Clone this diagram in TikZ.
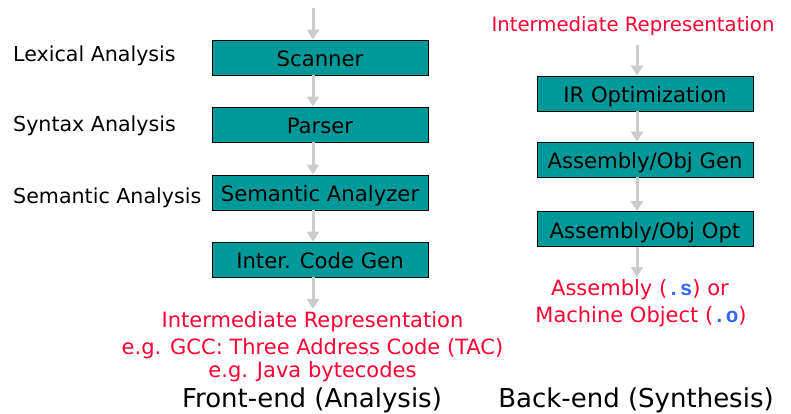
\documentclass[tikz,border=0pt]{standalone}
\usepackage{fontspec}
\setmainfont{DejaVu Sans}
\setmonofont{Liberation Mono}
\usetikzlibrary{arrows.meta}
\definecolor{teal}{RGB}{0,153,153}
\definecolor{irred}{RGB}{255,0,51}
\definecolor{monoblue}{RGB}{51,102,255}
\definecolor{arrgray}{RGB}{204,204,204}
\tikzset{
  stage/.style={draw=black, line width=0.8pt, fill=teal, minimum width=216pt, minimum height=35pt, inner sep=0pt, text height=18pt, text depth=0pt, font=\fontsize{21.2}{24}\selectfont},
  flow/.style={draw=arrgray, line width=3pt, -{Triangle[width=12pt,length=10pt]}},
  lbl/.style={anchor=base west, inner sep=0pt, font=\fontsize{20.6}{24}\selectfont},
  redtxt/.style={anchor=base, inner sep=0pt, text=irred, font=\fontsize{21}{24}\selectfont},
  title/.style={anchor=base, inner sep=0pt, font=\fontsize{26}{30}\selectfont},
}
\newcommand{\mono}[1]{{\ttfamily\bfseries\color{monoblue}#1}}
\begin{document}
\begin{tikzpicture}[x=1pt,y=-1pt]
\useasboundingbox (0,0) rectangle (791,414);
% left column
\node[stage] (scan) at (320,57.5) {Scanner};
\node[stage] (pars) at (320,124.5) {Parser};
\node[stage] (sem) at (320,192.5) {Semantic Analyzer};
\node[stage] (icg) at (320,259.5) {Inter. Code Gen};
\coordinate (in) at (313,8);
\node[lbl] (lex) at (13,62) {Lexical Analysis};
\node[lbl] (syn) at (13,132) {Syntax Analysis};
\node[lbl] (sema) at (13,203) {Semantic Analysis};
\node[redtxt] (ir1) at (312.5,327) {Intermediate Representation};
\node[redtxt] (ir2) at (312.5,354) {e.g. GCC: Three Address Code (TAC)};
\node[redtxt] (ir3) at (312.5,377) {e.g. Java bytecodes};
\node[title] (fe) at (312,407.5) {Front-end (Analysis)};
\coordinate (irtop) at (313,309);
\draw[flow] (in) -- ([xshift=-7pt]scan.north);
\draw[flow] ([xshift=-7pt]scan.south) -- ([xshift=-7pt]pars.north);
\draw[flow] ([xshift=-7pt]pars.south) -- ([xshift=-7pt]sem.north);
\draw[flow] ([xshift=-7pt]sem.south) -- ([xshift=-7pt]icg.north);
\draw[flow] ([xshift=-7pt]icg.south) -- (irtop);
% right column
\node[redtxt, font=\fontsize{19.7}{24}\selectfont] (irr) at (633,32) {Intermediate Representation};
\node[stage] (iro) at (645,93.5) {IR Optimization};
\node[stage] (agen) at (645,159.5) {Assembly/Obj Gen};
\node[stage] (aopt) at (645,229) {Assembly/Obj Opt};
\node[redtxt] (asm1) at (640,295) {Assembly (\mono{.s}) or};
\node[redtxt] (asm2) at (641,322) {Machine Object (\mono{.o})};
\node[title] (be) at (636,407.5) {Back-end (Synthesis)};
\coordinate (irrb) at (637,45);
\coordinate (asmtop) at (637,277);
\draw[flow] (irrb) -- ([xshift=-8pt]iro.north);
\draw[flow] ([xshift=-8pt]iro.south) -- ([xshift=-8pt]agen.north);
\draw[flow] ([xshift=-8pt]agen.south) -- ([xshift=-8pt]aopt.north);
\draw[flow] ([xshift=-8pt]aopt.south) -- (asmtop);
\end{tikzpicture}
\end{document}
